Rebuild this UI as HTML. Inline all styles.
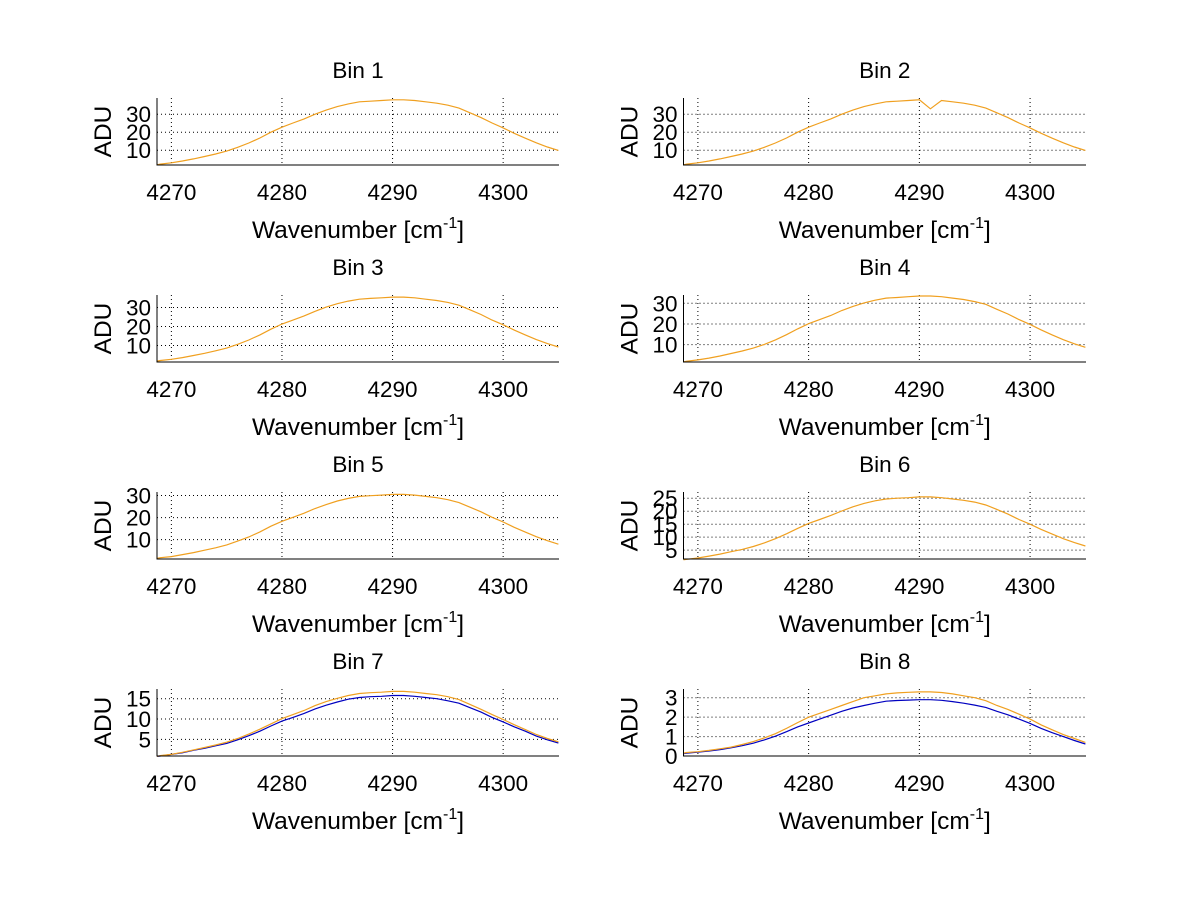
<!DOCTYPE html>
<html><head><meta charset="utf-8"><style>
html,body{margin:0;padding:0;background:#fff;}
svg text{font-family:"Liberation Sans",sans-serif;fill:#000;}
</style></head><body>
<svg id="fig" width="1200" height="901" viewBox="0 0 1200 901" xmlns="http://www.w3.org/2000/svg"></svg>
<script>
const wavenumbers=[4268,4269,4270,4271,4272,4273,4274,4275,4276,4277,4278,4279,4280,4281,4282,4283,4284,4285,4286,4287,4288,4289,4290,4291,4292,4293,4294,4295,4296,4297,4298,4299,4300,4301,4302,4303,4304,4305];
const xTicks=[4270,4280,4290,4300];
const bin1=[1.9,2.3,3.0,4.0,5.2,6.5,7.9,9.5,11.6,14.0,16.8,20.0,22.8,25.1,27.4,30.0,32.3,34.2,35.7,36.9,37.2,37.6,38.0,38.0,37.6,36.9,36.1,35.0,33.4,30.8,28.1,25.1,22.4,19.4,16.7,14.1,11.8,9.9];
const bin2=[1.9,2.3,3.0,4.0,5.2,6.5,7.9,9.5,11.6,14.0,16.8,20.0,22.8,25.1,27.4,30.0,32.3,34.2,35.7,36.9,37.2,37.6,38.0,33.0,37.6,36.9,36.1,35.0,33.4,30.8,28.1,25.1,22.4,19.4,16.7,14.1,11.8,9.9];
const bin3=[1.8,2.1,2.7,3.6,4.7,5.9,7.2,8.6,10.6,12.9,15.6,18.6,21.3,23.4,25.6,28.0,30.2,32.0,33.4,34.4,34.8,35.1,35.5,35.5,35.1,34.4,33.7,32.7,31.2,28.8,26.3,23.4,20.9,18.1,15.6,13.1,11.0,9.2];
const bin4=[1.7,2.0,2.6,3.5,4.5,5.7,6.9,8.3,10.1,12.3,14.8,17.6,20.1,22.1,24.1,26.5,28.5,30.2,31.5,32.5,32.8,33.2,33.5,33.5,33.2,32.5,31.8,30.8,29.5,27.1,24.8,22.1,19.8,17.1,14.7,12.4,10.4,8.7];
const bin5=[1.5,1.8,2.3,3.2,4.1,5.2,6.3,7.6,9.3,11.2,13.5,16.1,18.3,20.1,22.0,24.1,25.9,27.5,28.7,29.6,29.9,30.2,30.5,30.5,30.2,29.6,29.0,28.1,26.8,24.7,22.6,20.1,18.0,15.6,13.4,11.3,9.5,7.9];
const bin6=[1.3,1.5,2.0,2.7,3.5,4.4,5.3,6.4,7.8,9.4,11.3,13.4,15.3,16.8,18.4,20.1,21.7,23.0,24.0,24.7,25.0,25.2,25.5,25.5,25.2,24.7,24.2,23.5,22.4,20.7,18.9,16.8,15.0,13.0,11.2,9.4,7.9,6.6];
const bin7blue=[0.8,0.9,1.3,1.7,2.3,2.8,3.4,4.0,4.9,5.9,7.0,8.3,9.5,10.4,11.4,12.5,13.4,14.2,14.9,15.3,15.5,15.6,15.8,15.8,15.6,15.3,15.0,14.5,13.9,12.8,11.7,10.4,9.3,8.1,7.0,5.8,4.9,4.1];
const bin7orange=[0.8,1.0,1.3,1.8,2.4,3.0,3.6,4.3,5.2,6.3,7.5,8.8,10.1,11.1,12.1,13.3,14.3,15.1,15.8,16.3,16.5,16.6,16.8,16.8,16.6,16.3,16.0,15.5,14.8,13.6,12.4,11.1,9.9,8.6,7.4,6.2,5.2,4.4];
const bin8blue=[0.12,0.15,0.2,0.26,0.33,0.42,0.53,0.66,0.83,1.02,1.25,1.5,1.7,1.9,2.1,2.3,2.47,2.6,2.72,2.82,2.86,2.88,2.9,2.9,2.87,2.8,2.72,2.62,2.5,2.3,2.12,1.9,1.68,1.42,1.2,1.0,0.8,0.62];
const bin8orange=[0.15,0.18,0.22,0.29,0.37,0.46,0.59,0.74,0.93,1.15,1.42,1.72,2.0,2.2,2.4,2.6,2.8,3.0,3.1,3.2,3.25,3.28,3.3,3.3,3.27,3.2,3.1,3.0,2.85,2.6,2.4,2.15,1.9,1.6,1.35,1.1,0.9,0.7];
const yTicks1=[10,20,30],yTicks6=[5,10,15,20,25],yTicks7=[5,10,15],yTicks8=[0,1,2,3];

const panels=[
 {t:"Bin 1",col:0,row:0,yl:[1.8,39],yt:yTicks1,s:[[bin1,"#f0a020"]]},
 {t:"Bin 2",col:1,row:0,yl:[1.8,39],yt:yTicks1,s:[[bin2,"#f0a020"]]},
 {t:"Bin 3",col:0,row:1,yl:[1.3,36.6],yt:yTicks1,s:[[bin3,"#f0a020"]]},
 {t:"Bin 4",col:1,row:1,yl:[1.6,34],yt:yTicks1,s:[[bin4,"#f0a020"]]},
 {t:"Bin 5",col:0,row:2,yl:[1.2,31.6],yt:yTicks1,s:[[bin5,"#f0a020"]]},
 {t:"Bin 6",col:1,row:2,yl:[1.6,27.4],yt:yTicks6,s:[[bin6,"#f0a020"]]},
 {t:"Bin 7",col:0,row:3,yl:[0.9,17.4],yt:yTicks7,s:[[bin7blue,"#0000c0"],[bin7orange,"#f0a020"]]},
 {t:"Bin 8",col:1,row:3,yl:[0,3.45],yt:yTicks8,s:[[bin8blue,"#0000c0"],[bin8orange,"#f0a020"]]}
];
const NS="http://www.w3.org/2000/svg",svg=document.getElementById('fig');
function mk(tag,at,parent){const e=document.createElementNS(NS,tag);for(const k in at)e.setAttribute(k,at[k]);(parent||svg).appendChild(e);return e;}
const xmin=4268.7,xmax=4305.05;
panels.forEach((p,i)=>{
 const L=p.col?683.5:157,R=p.col?1086:559,T=98+p.row*197,B=165+p.row*197;
 const g=mk('g',{});
 
 
 const X=v=>L+(v-xmin)/(xmax-xmin)*(R-L);
 const Y=v=>B-(v-p.yl[0])/(p.yl[1]-p.yl[0])*(B-T);
 xTicks.forEach(v=>{
  const gl=mk('line',{x1:X(v),x2:X(v),y1:T,y2:B,stroke:'#000','stroke-width':1,'stroke-dasharray':'1,3'},g);
  
  
  const tl=mk('text',{x:X(v),y:B+35,'font-size':22.5,'text-anchor':'middle'},g);tl.textContent=v;
  
  
 });
 p.yt.forEach(v=>{
  const gl=mk('line',{x1:L,x2:R,y1:Y(v),y2:Y(v),stroke:'#000','stroke-width':1,'stroke-dasharray':'1,3'},g);
  
  
  const tl=mk('text',{x:L-6,y:Y(v)+8,'font-size':22.5,'text-anchor':'end'},g);tl.textContent=v;
  
  
 });
 p.s.forEach(([arr,c])=>{
  const d=arr.map((v,k)=>(k?'L':'M')+X(Math.max(wavenumbers[k],xmin)).toFixed(1)+','+Y(v).toFixed(1)).join('');
  const pl=mk('path',{d:d,fill:'none',stroke:c,'stroke-width':1.2},g);
  
  
 });
 const ax=mk('path',{d:`M${L},${T}L${L},${B}L${R},${B}`,fill:'none',stroke:'#000','stroke-width':1},g);
 
 
 const tt=mk('text',{x:(L+R)/2,y:T-20,'font-size':22.5,'text-anchor':'middle'},g);tt.textContent=p.t;
 
 
 const xl=mk('text',{x:(L+R)/2,y:B+73,'font-size':24.5,'text-anchor':'middle'},g);
 xl.innerHTML='Wavenumber [cm<tspan dy="-10" font-size="16">-1</tspan><tspan dy="10">]</tspan>';
 
 
 const yx=L-46,yy=(T+B)/2;
 const yl=mk('text',{x:yx,y:yy,'font-size':24.5,'text-anchor':'middle',transform:`rotate(-90 ${yx} ${yy})`},g);yl.textContent='ADU';
 
 
});
</script>
</body></html>
